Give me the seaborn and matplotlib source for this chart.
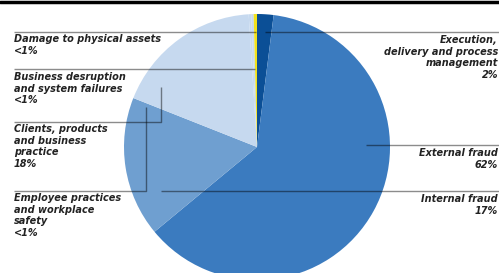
import matplotlib
matplotlib.use("Agg")
import matplotlib.pyplot as plt
import seaborn as sns

# Operational risk loss categories, clockwise from 12 o'clock
categories = ["Execution, delivery and process management", "External fraud",
              "Internal fraud", "Clients, products and business practice",
              "Employee practices and workplace safety",
              "Business desruption and system failures",
              "Damage to physical assets"]
shares = [2, 62, 17, 18, 0.3, 0.3, 0.4]
colors = ["#0b4f96", "#3b7bbf", "#6f9fd0", "#c6d9ef", "#c6d9ef", "#c6d9ef", "#f2e21c"]

left_labels = ["Damage to physical assets\n<1%",
               "Business desruption\nand system failures\n<1%",
               "Clients, products\nand business\npractice\n18%",
               "Employee practices\nand workplace\nsafety\n<1%"]
left_label_y = [34, 72, 124, 193]

right_labels = ["Execution,\ndelivery and process\nmanagement\n2%",
                "External fraud\n62%",
                "Internal fraud\n17%"]
right_label_y = [35, 148, 194]

sns.set_theme(style="white")
plt.rcParams['font.family'] = ['DejaVu Sans']

W, H = 499, 273
fig = plt.figure(figsize=(W / 100, H / 100), dpi=100)

# pie axes: centre (257, 147) px, radius 133 px
cx, cy, r = 257, 147, 133
ax = fig.add_axes([(cx - r) / W, (H - cy - r) / H, 2 * r / W, 2 * r / H])
ax.pie(shares, colors=colors, startangle=90, counterclock=False, radius=1,
       wedgeprops=dict(linewidth=0))
ax.set_xlim(-1, 1)
ax.set_ylim(-1, 1)
ax.set_aspect("auto")
ax.axis("off")

# overlay in pixel coordinates for leader lines and labels
ov = fig.add_axes([0, 0, 1, 1], zorder=5)
ov.set_xlim(0, W)
ov.set_ylim(H, 0)
ov.axis("off")
ov.patch.set_alpha(0)

lk = dict(color="black", alpha=0.45, lw=1.0, solid_capstyle="butt")
# top rule
ov.plot([0, W], [1.5, 1.5], color="black", lw=2.5)
# left side
ov.plot([14, 256], [32, 32], **lk)
ov.plot([14, 255], [69, 69], **lk)
ov.plot([14, 161, 161], [122, 122, 87], **lk)
ov.plot([14, 146, 146], [191, 191, 107], **lk)
# right side
ov.plot([265, W], [32, 32], **lk)
ov.plot([366, W], [145, 145], **lk)
ov.plot([161, W], [191, 191], **lk)

tk = dict(fontsize=7, fontweight="bold", fontstyle="italic", color="#222222",
          va="top", linespacing=1.2)
for txt, y in zip(left_labels, left_label_y):
    ov.text(14, y, txt, ha="left", **tk)
for txt, y in zip(right_labels, right_label_y):
    ov.text(498, y, txt, ha="right", multialignment="right", **tk)

fig.savefig("out.png", dpi=100)
